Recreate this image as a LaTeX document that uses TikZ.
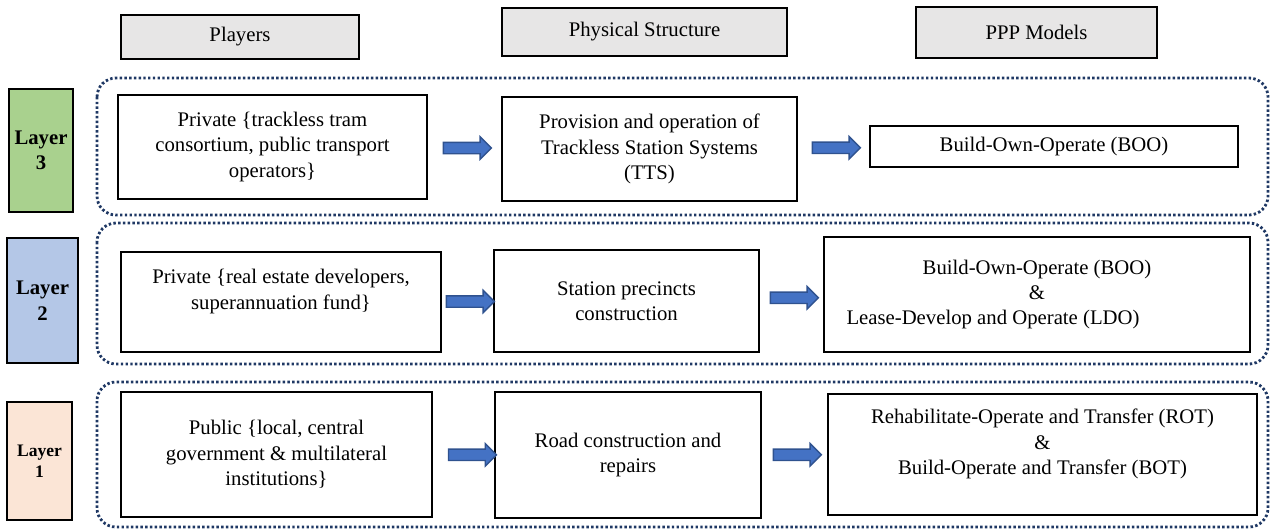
\documentclass[tikz,border=0pt]{standalone}
\usepackage{fontspec}
\setmainfont{Liberation Serif}
\usetikzlibrary{shapes.arrows}
\definecolor{hdrgray}{HTML}{E7E6E6}
\definecolor{lgreen}{HTML}{A9D18E}
\definecolor{lblue}{HTML}{B4C7E7}
\definecolor{lpeach}{HTML}{FBE5D6}
\definecolor{arrfill}{HTML}{4472C4}
\definecolor{arrline}{HTML}{2F528F}
\definecolor{navy}{HTML}{1F3864}
\newcommand{\cellsize}{\fontsize{11.8pt}{14.5pt}\selectfont}

\begin{document}
\begin{tikzpicture}[x=0.02cm,y=-0.02cm,
    hdr/.style={draw,line width=1.1pt,fill=hdrgray,inner sep=0pt,font=\cellsize},
    lyr/.style={draw,line width=1.1pt,inner sep=0pt,align=center,font=\bfseries\cellsize},
    cell/.style={draw,line width=1pt,inner sep=0pt,align=center,font=\cellsize},
    frame/.style={draw=navy,line width=1.6pt,dash pattern=on 1.4pt off 1.3pt,rounded corners=0.38cm},
    flow/.style={single arrow,draw=arrline,fill=arrfill,line width=0.8pt,inner xsep=0pt,inner ysep=0.1cm,
      minimum height=0.96cm,single arrow head extend=0.11cm,single arrow head indent=0pt}]
    \useasboundingbox (0,0) rectangle (1271,529);
    % column headers
    \node[hdr,minimum width=4.76cm,minimum height=0.88cm] (hplay) at (240,37) {Players};
    \node[hdr,minimum width=5.7cm,minimum height=0.96cm] (hphys) at (644.5,32) {Physical Structure};
    \node[hdr,minimum width=4.82cm,minimum height=1.02cm] (hppp) at (1036.5,32.5) {PPP Models};
    % layer tags
    \node[lyr,fill=lgreen,minimum width=1.28cm,minimum height=2.46cm] (l3) at (41,150.5) {Layer\\3};
    \node[lyr,fill=lblue,minimum width=1.42cm,minimum height=2.5cm] (l2) at (42.5,300.5) {Layer\\2};
    \node[lyr,fill=lpeach,minimum width=1.3cm,minimum height=2.36cm,
      font=\bfseries\fontsize{10pt}{12pt}\selectfont] (l1) at (39.5,461) {Layer\\1};
    % dotted frames
    \draw[frame] (97,78) rectangle (1268,215);
    \draw[frame] (97,223) rectangle (1268,364);
    \draw[frame] (97,382) rectangle (1268,527);
    % layer 3
    \node[cell,minimum width=6.18cm,minimum height=2.08cm] (p3) at (272.5,147) {Private \{trackless tram\\consortium, public transport\\operators\}};
    \node[cell,minimum width=5.9cm,minimum height=2.08cm] (s3) at (649.5,149) {Provision and operation of\\Trackless Station Systems\\(TTS)};
    \node[cell,minimum width=7.36cm,minimum height=0.82cm] (m3) at (1054,146.5) {Build-Own-Operate (BOO)};
    \path (p3.east) -- node[flow] (a31) {} (s3.west);
    \path (s3.east) -- node[flow] (a32) {} (m3.west);
    % layer 2
    \node[cell,minimum width=6.4cm,minimum height=2cm] (p2) at (281,302) {Private \{real estate developers,\\superannuation fund\}\\\mbox{}};
    \node[cell,minimum width=5.3cm,minimum height=2.04cm] (s2) at (626.5,301) {Station precincts\\construction};
    \node[cell,minimum width=8.52cm,minimum height=2.3cm] (m2) at (1037,294.5) {Build-Own-Operate (BOO)\\\&\\Lease-Develop and Operate (LDO)\hspace*{1.76cm}};
    \path (p2.east) -- node[flow] (a21) {} (s2.west);
    \path (s2.east) -- node[flow] (a22) {} (m2.west);
    % layer 1
    \node[cell,minimum width=6.22cm,minimum height=2.5cm] (p1) at (276.5,454.5) {Public \{local, central\\government \& multilateral\\institutions\}};
    \node[cell,minimum width=5.32cm,minimum height=2.52cm] (s1) at (628,455) {Road construction and\\repairs};
    \node[cell,minimum width=8.58cm,minimum height=2.42cm] (m1) at (1042.5,454.5) {Rehabilitate-Operate and Transfer (ROT)\\\&\\Build-Operate and Transfer (BOT)\\\mbox{}};
    \path (p1.east) -- node[flow,pos=.6] (a11) {} (s1.west);
    \path (s1.east) -- node[flow] (a12) {} (m1.west);
\end{tikzpicture}
\end{document}
